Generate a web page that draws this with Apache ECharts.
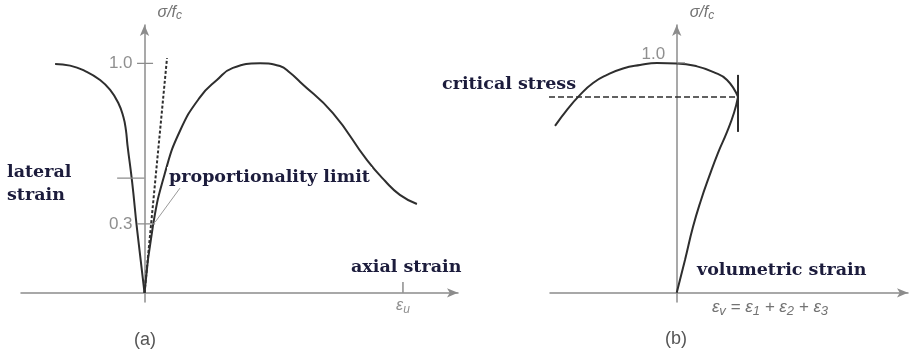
<!DOCTYPE html>
<html>
<head>
<meta charset="utf-8">
<script src="https://cdn.jsdelivr.net/npm/echarts@6/dist/echarts.min.js"></script>
<style>
  html, body { margin: 0; padding: 0; background: #fff; }
  #chart { width: 909px; height: 351px; }
</style>
</head>
<body>
<div id="chart"></div>
<script>
// (a) stress–strain curves; strain in units of the ultimate strain, stress as σ/fc
const lateralStrain = [-0.346, -0.288, -0.224, -0.172, -0.133, -0.101, -0.082, -0.072, -0.066, -0.048, -0.029, 0];
const lateralStress = [0.997, 0.990, 0.963, 0.927, 0.884, 0.826, 0.767, 0.709, 0.644, 0.483, 0.278, 0];
const axialStrain = [0, 0.033, 0.079, 0.137, 0.215, 0.280, 0.342, 0.447, 0.524, 0.563, 0.602, 0.729, 0.861, 0.931, 0.988, 1.054];
const axialStress = [0, 0.295, 0.522, 0.705, 0.853, 0.927, 0.980, 1.0, 0.988, 0.959, 0.919, 0.783, 0.578, 0.487, 0.427, 0.387];
const elasticStrain = [0, 0.087];
const elasticStress = [0, 1.023];
const stressTicksA = [0.3, 0.5, 1.0];
const stressLabelsA = [0.3, 1.0];
const ultimateStrain = 1;

// (b) stress against volumetric strain
const lateralStrainB = [-1.985, -1.790, -1.577, -1.365, -1.137, -0.876, -0.599, -0.321, 0.005, 0.331, 0.592, 0.821, 1.0];
const lateralStressB = [0.726, 0.796, 0.861, 0.913, 0.948, 0.976, 0.991, 1.0, 0.998, 0.985, 0.961, 0.926, 0.852];
const volumetricStrain = [0, 0.135, 0.266, 0.397, 0.527, 0.674, 0.821, 0.935, 1.0];
const volumetricStress = [0, 0.143, 0.287, 0.404, 0.504, 0.609, 0.700, 0.783, 0.852];
const criticalStress = 0.852;
const criticalStrainStart = -3.698;
const reversalStrain = 1.0;
const reversalBar = [0.7, 0.948];
const stressLabelsB = [1.0];

const CURVE = '#2e2e2e';
const AXIS = '#8c8c8c';
const LABEL = '#737373';
const NOTE = '#1c1c3c';

const zip = (xs, ys) => xs.map((x, i) => [x, ys[i]]);

function line(grid, data, style, extra) {
  return Object.assign({
    type: 'line', xAxisIndex: grid, yAxisIndex: grid, data: data,
    symbol: 'none', silent: true, animation: false,
    lineStyle: Object.assign({ color: CURVE, width: 2 }, style)
  }, extra || {});
}

// invisible anchor points that carry the axis value labels
function valueLabels(grid, points, label) {
  return {
    type: 'scatter', xAxisIndex: grid, yAxisIndex: grid, silent: true, animation: false,
    symbolSize: 1, itemStyle: { color: 'rgba(0,0,0,0)' },
    data: points,
    label: Object.assign({
      show: true, fontFamily: 'Liberation Sans', fontSize: 17, color: LABEL,
      formatter: p => p.value[1].toFixed(1)
    }, label)
  };
}

const nameRich = {
  s: { fontFamily: 'Liberation Sans', fontStyle: 'italic', fontSize: 16, color: LABEL },
  c: { fontFamily: 'Liberation Sans', fontStyle: 'italic', fontSize: 12, color: LABEL, verticalAlign: 'bottom', padding: [6, 0, 0, 0] }
};

function xAxisCfg(grid, min, max) {
  return {
    gridIndex: grid, type: 'value', min: min, max: max,
    axisLine: { onZero: true, symbol: ['none', 'arrow'], symbolSize: [7, 11], lineStyle: { color: AXIS, width: 1.5 } },
    axisTick: { show: false }, splitLine: { show: false }, axisLabel: { show: false }
  };
}
function yAxisCfg(grid, min, max) {
  return {
    gridIndex: grid, type: 'value', min: min, max: max,
    axisLine: { onZero: true, symbol: ['none', 'arrow'], symbolSize: [7, 11], lineStyle: { color: AXIS, width: 1.5 } },
    axisTick: { show: false }, splitLine: { show: false }, axisLabel: { show: false },
    name: '{s|σ/f}{c|c}', nameLocation: 'end', nameGap: 3,
    nameTextStyle: { align: 'left', padding: [0, 0, 0, 13], rich: nameRich }
  };
}

const SMOOTH = 0.5;
const series = [
  // (a)
  line(0, zip(lateralStrain, lateralStress), {}, { smooth: SMOOTH }),
  line(0, zip(axialStrain, axialStress), {}, { smooth: SMOOTH }),
  line(0, zip(elasticStrain, elasticStress), { type: [3, 2], width: 2 }),
  line(0, [[-0.029, stressTicksA[2]], [0.033, stressTicksA[2]]], { color: AXIS, width: 1.3 }),
  line(0, [[-0.106, stressTicksA[1]], [0, stressTicksA[1]]], { color: AXIS, width: 1.3 }),
  line(0, [[-0.029, stressTicksA[0]], [0.041, stressTicksA[0]]], { color: AXIS, width: 1.3 }),
  line(0, [[0.041, 0.308], [0.137, 0.456]], { color: '#9a9a9a', width: 1 }),
  line(0, [[ultimateStrain, 0], [ultimateStrain, 0.047]], { color: AXIS, width: 1.5 }),
  valueLabels(0, stressLabelsA.map(v => [-0.029, v]), { position: 'left', distance: 4 }),
  valueLabels(0, [[ultimateStrain, 0]], {
    position: 'bottom', distance: 2,
    formatter: () => '{e|ε}{u|u}',
    rich: {
      e: { fontFamily: 'Liberation Sans', fontStyle: 'italic', fontSize: 16, color: LABEL },
      u: { fontFamily: 'Liberation Sans', fontStyle: 'italic', fontSize: 12, color: LABEL, verticalAlign: 'bottom', padding: [8, 0, 0, 0] }
    }
  }),
  // (b)
  line(1, zip(lateralStrainB, lateralStressB), {}, { smooth: SMOOTH }),
  line(1, zip(volumetricStrain, volumetricStress), {}, { smooth: SMOOTH }),
  line(1, [[criticalStrainStart, criticalStress], [reversalStrain, criticalStress]], { type: [6, 3], width: 1.6 }, { clip: false }),
  line(1, [[reversalStrain, reversalBar[0]], [reversalStrain, reversalBar[1]]], { width: 2 }),
  line(1, [[0, stressLabelsB[0]], [0.135, stressLabelsB[0]]], { color: AXIS, width: 1.3 }),
  valueLabels(1, stressLabelsB.map(v => [0, v]), { position: 'left', distance: 11, offset: [0, -9] })
];

const noteFont = 'bold 17.5px "DejaVu Serif"';
function note(text, x, y) {
  return {
    type: 'text', x: x, y: y, z: 100, silent: true,
    style: { text: text, font: noteFont, fill: NOTE, verticalAlign: 'middle', backgroundColor: '#fff', padding: [1, 2] }
  };
}
function caption(text, x, y) {
  return {
    type: 'text', x: x, y: y, z: 100, silent: true,
    style: { text: text, font: '18px "Liberation Sans"', fill: '#555', align: 'center', verticalAlign: 'middle' }
  };
}

const chart = echarts.init(document.getElementById('chart'), null, { renderer: 'canvas' });
chart.setOption({
  animation: false,
  backgroundColor: '#fff',
  grid: [
    { left: 21, top: 25, width: 437, height: 277, outerBoundsMode: 'none', containLabel: false },
    { left: 550, top: 25, width: 358, height: 277, outerBoundsMode: 'none', containLabel: false }
  ],
  xAxis: [xAxisCfg(0, -0.478, 1.213), xAxisCfg(1, -2.067, 3.773)],
  yAxis: [yAxisCfg(0, -0.04, 1.167), yAxisCfg(1, -0.04, 1.165)],
  series: series,
  graphic: [
    note('lateral', 5, 172),
    note('strain', 5, 195),
    note('proportionality limit', 167, 177),
    note('axial strain', 349, 267),
    note('critical stress', 440, 84),
    note('volumetric strain', 695, 270),
    {
      type: 'text', x: 770, y: 307, z: 100, silent: true,
      style: {
        text: '{e|ε}{s|v}{e| = ε}{s|1}{e| + ε}{s|2}{e| + ε}{s|3}',
        align: 'center', verticalAlign: 'middle',
        rich: {
          e: { font: 'italic 17px "Liberation Sans"', fill: LABEL },
          s: { font: 'italic 13px "Liberation Sans"', fill: LABEL, verticalAlign: 'bottom', padding: [8, 0, 0, 0] }
        }
      }
    },
    caption('(a)', 145, 340),
    caption('(b)', 676, 339)
  ]
});
</script>
</body>
</html>
